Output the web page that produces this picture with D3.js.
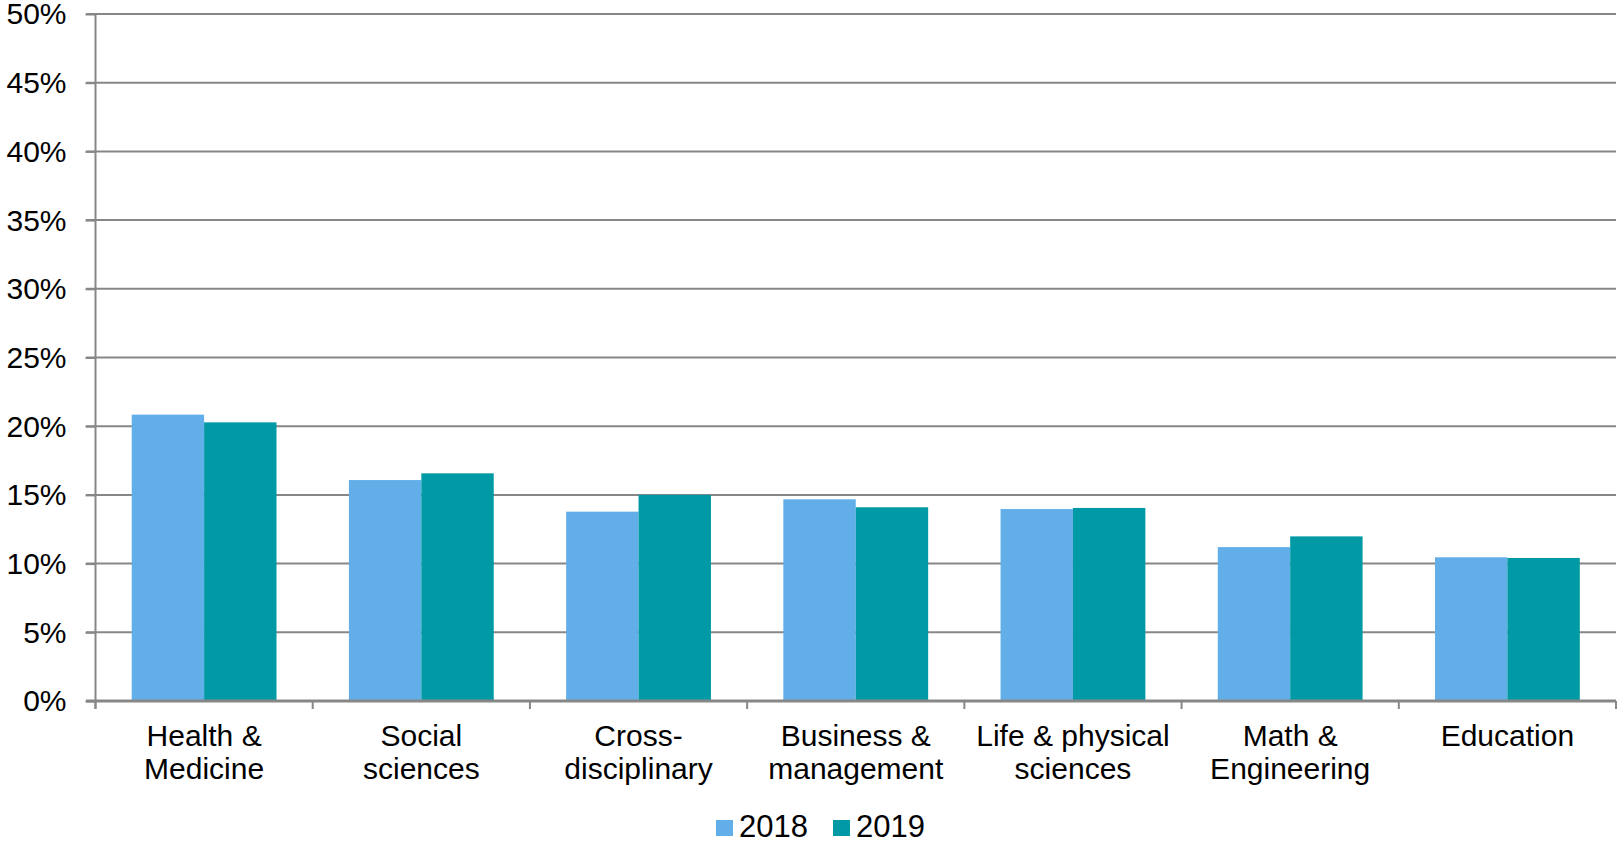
<!DOCTYPE html>
<html>
<head>
<meta charset="utf-8">
<script src="https://cdn.jsdelivr.net/npm/d3@7"></script>
<style>
  html, body { margin: 0; padding: 0; background: #fff; }
  svg { display: block; }
  text { font-family: "Liberation Sans", Arial, sans-serif; fill: #000; }
</style>
</head>
<body>
<svg id="chart" width="1618" height="845"></svg>
<script>
const categories = ["Health &\nMedicine", "Social\nsciences", "Cross-\ndisciplinary", "Business &\nmanagement", "Life & physical\nsciences", "Math &\nEngineering", "Education"];
const seriesNames = ["2018", "2019"];
const values2018 = [20.84, 16.08, 13.78, 14.68, 13.97, 11.2, 10.46];
const values2019 = [20.28, 16.57, 15.0, 14.1, 14.05, 11.98, 10.41];
const seriesColors = ["#62AEE9", "#009AA6"];
const yTicks = [0, 5, 10, 15, 20, 25, 30, 35, 40, 45, 50];

(function () {
const svg = d3.select("#chart");
const mLeft = 95.5, mRight = 1616, mTop = 14, mBottom = 701;

const y = d3.scaleLinear().domain([0, 50]).range([mBottom, mTop]);
const x = d3.scaleBand().domain(categories).range([mLeft, mRight]).paddingInner(0).paddingOuter(0);
const xs = d3.scaleBand().domain(seriesNames).range([0, x.bandwidth()]).paddingInner(0).paddingOuter(0.5);

const grey = "#878787";

// gridlines
svg.append("g").selectAll("line").data(yTicks.filter(d => d > 0)).join("line")
  .attr("x1", 86).attr("x2", mRight)
  .attr("y1", d => y(d)).attr("y2", d => y(d))
  .attr("stroke", grey).attr("stroke-width", 2);

// bars
const data = categories.map((c, i) => ({ c, vals: [values2018[i], values2019[i]] }));
const groups = svg.append("g").selectAll("g").data(data).join("g")
  .attr("transform", d => `translate(${x(d.c)},0)`);
groups.selectAll("rect").data(d => d.vals.map((v, j) => ({ v, s: seriesNames[j], j }))).join("rect")
  .attr("x", d => xs(d.s))
  .attr("width", xs.bandwidth())
  .attr("y", d => y(d.v))
  .attr("height", d => y(0) - y(d.v))
  .attr("fill", d => seriesColors[d.j]);

// y axis
const yAxis = svg.append("g").attr("transform", `translate(${mLeft},0)`)
  .call(d3.axisLeft(y).tickValues(yTicks).tickFormat(d => d + "%").tickSize(10).tickPadding(19));
yAxis.select(".domain").attr("stroke", grey).attr("stroke-width", 2).attr("d", `M0,${mTop}V${mBottom + 8}`);
yAxis.selectAll(".tick line").attr("stroke", grey).attr("stroke-width", 2);
yAxis.selectAll(".tick text").attr("font-size", 30).attr("font-family", "Liberation Sans, Arial, sans-serif").attr("fill", "#000").attr("dy", "0.33em");

// x axis
const xAxis = svg.append("g").attr("transform", `translate(0,${mBottom})`)
  .call(d3.axisBottom(x).tickSize(0).tickFormat(""));
xAxis.select(".domain").attr("stroke", grey).attr("stroke-width", 3).attr("d", `M86,0H${mRight}`);
xAxis.selectAll(".tick").remove();
// category boundary ticks
const bounds = categories.map(c => x(c)).concat([mRight]);
svg.append("g").selectAll("line").data(bounds).join("line")
  .attr("x1", d => d).attr("x2", d => d)
  .attr("y1", mBottom).attr("y2", mBottom + 8)
  .attr("stroke", grey).attr("stroke-width", 2);

// category labels
const labels = svg.append("g").selectAll("text").data(categories).join("text")
  .attr("text-anchor", "middle")
  .attr("font-size", 30)
  .attr("transform", d => `translate(${x(d) + x.bandwidth() / 2},746)`);
labels.selectAll("tspan").data(d => d.split("\n")).join("tspan")
  .attr("x", 0).attr("y", (d, i) => i * 33)
  .text(d => d);

// legend
const legendX = [716, 833];
const legend = svg.append("g").selectAll("g").data(seriesNames).join("g")
  .attr("transform", (d, i) => `translate(${legendX[i]},820)`);
legend.append("rect").attr("width", 17).attr("height", 16).attr("fill", (d, i) => seriesColors[i]);
legend.append("text").attr("x", 23).attr("y", 16.5).attr("font-size", 31).text(d => d);
})();
</script>
</body>
</html>
